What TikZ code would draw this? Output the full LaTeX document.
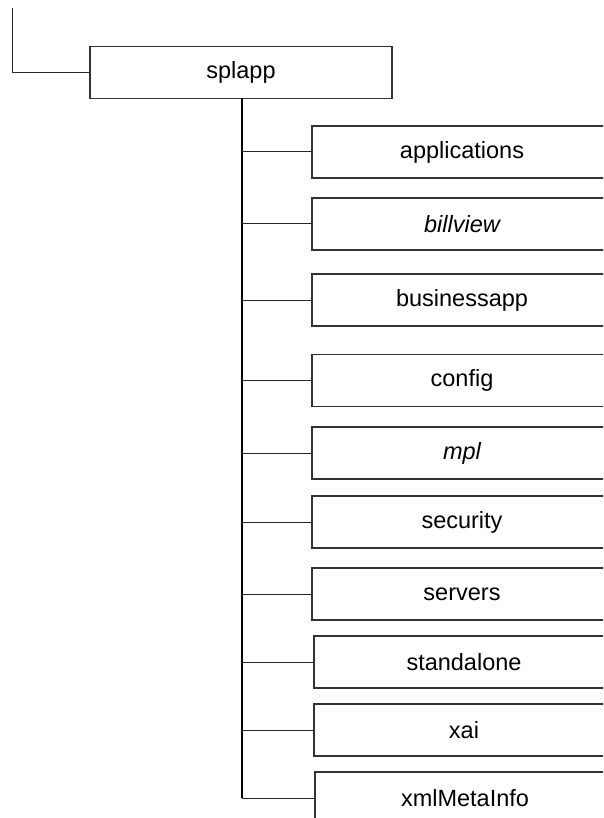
\documentclass[tikz,border=0pt]{standalone}
\usepackage{fontspec}
\setmainfont{Liberation Sans}
\begin{document}
\begin{tikzpicture}[x=1pt,y=-1pt,
  dirbox/.style={draw=black!80,line width=1.3pt,inner sep=0pt,outer sep=0pt,
    minimum height=52pt,font=\fontsize{23.5}{28}\selectfont,text=black},
  childbox/.style={dirbox,minimum width=300pt,anchor=west},
  link/.style={draw=black!85,line width=1pt},
  trunk/.style={draw=black,line width=2pt}]
\useasboundingbox (0,0) rectangle (603,818);
\clip (0,0) rectangle (603,818);
\node[dirbox,minimum width=302pt] (splapp) at (241,72.5) {splapp};
\coordinate (rootend) at (12,8);
\draw[link] (rootend) |- (splapp.west);
\node[childbox] (applications) at (312,152) {applications};
\node[childbox] (billview) at (312,224) {\itshape billview};
\node[childbox] (businessapp) at (312,300) {businessapp};
\node[childbox] (config) at (312,380.5) {config};
\node[childbox] (mpl) at (312,453) {\itshape mpl};
\node[childbox] (security) at (312,522) {security};
\node[childbox] (servers) at (312,594) {servers};
\node[childbox] (standalone) at (314,662) {standalone};
\node[childbox] (xai) at (314,730) {xai};
\node[childbox] (xmlMetaInfo) at (315,798) {xmlMetaInfo};
\coordinate (trunkend) at (242,798);
\draw[trunk] (splapp.south -| trunkend) -- (trunkend);
\foreach \c in {applications,billview,businessapp,config,mpl,security,servers,standalone,xai,xmlMetaInfo}
  \draw[link] (\c.west -| trunkend) -- (\c.west);
\end{tikzpicture}
\end{document}
